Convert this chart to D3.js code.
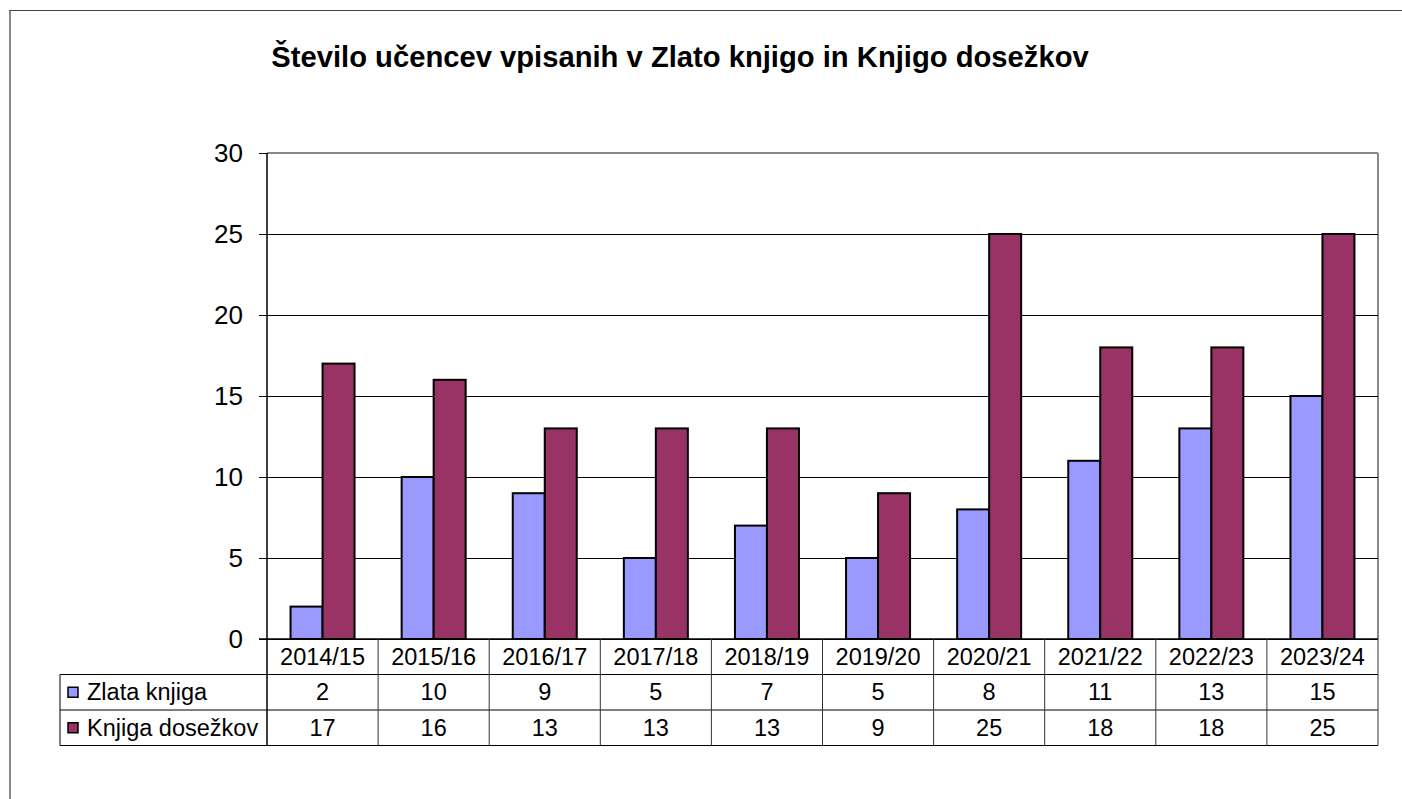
<!DOCTYPE html>
<html>
  <head>
    <meta charset="utf-8">
    <title>Zlata knjiga in Knjiga dosežkov</title>
    <style>
      body {
        margin: 0px;
        overflow: hidden;
        background: #fff;
      }
      text { font-family: "Liberation Sans", Arial, sans-serif; }
    </style>
    <script src="https://d3js.org/d3.v7.min.js"></script>
  </head>
  <body>

    <svg width="1402" height="799"></svg>

    <script>
      const years = ['2014/15', '2015/16', '2016/17', '2017/18', '2018/19',
                     '2019/20', '2020/21', '2021/22', '2022/23', '2023/24'];
      const seriesNames = ['Zlata knjiga', 'Knjiga dosežkov'];
      const zlataKnjiga = [2, 10, 9, 5, 7, 5, 8, 11, 13, 15];
      const knjigaDosezkov = [17, 16, 13, 13, 13, 9, 25, 18, 18, 25];
      const yTicks = [0, 5, 10, 15, 20, 25, 30];
      const colors = ['#9999ff', '#993366'];

      const svg = d3.select('svg');
      const width = +svg.attr('width');

      const series = [zlataKnjiga, knjigaDosezkov];

      // outer frame (cut by the window)
      svg.append('line')
        .attr('x1', 10).attr('x2', 10).attr('y1', 10).attr('y2', 799)
        .attr('stroke', '#888').attr('stroke-width', 2);
      svg.append('line')
        .attr('x1', 9).attr('x2', width).attr('y1', 10.5).attr('y2', 10.5)
        .attr('stroke', '#444').attr('stroke-width', 1);

      svg.append('text')
        .attr('x', 680).attr('y', 67)
        .attr('text-anchor', 'middle')
        .attr('font-weight', 'bold')
        .attr('font-size', 29.2)
        .text('Število učencev vpisanih v Zlato knjigo in Knjigo dosežkov');

      const plotL = 267, plotR = 1378, plotT = 153, plotB = 639;
      const rowH = 35.5;

      const xScale = d3.scaleBand().domain(years).range([plotL, plotR]);
      const yScale = d3.scaleLinear().domain([0, 30]).range([plotB, plotT]);
      const xInner = d3.scaleBand().domain(seriesNames).range([0, 64]);

      // plot border (top/right gray)
      svg.append('line')
        .attr('x1', plotL).attr('x2', plotR).attr('y1', plotT).attr('y2', plotT)
        .attr('stroke', '#888').attr('stroke-width', 2);
      svg.append('line')
        .attr('x1', plotR).attr('x2', plotR).attr('y1', plotT).attr('y2', plotB)
        .attr('stroke', '#888').attr('stroke-width', 2);

      const yAxis = d3.axisLeft(yScale)
        .tickValues(yTicks)
        .tickSize(-(plotR - plotL))
        .tickPadding(24);

      const gy = svg.append('g')
        .attr('transform', `translate(${plotL},0)`)
        .call(yAxis);
      gy.select('.domain').remove();
      gy.selectAll('.tick line')
        .attr('stroke', '#000')
        .attr('x1', -8)
        .filter(d => d === 30).attr('x2', 0);
      gy.selectAll('.tick text')
        .attr('font-size', 26)
        .attr('fill', '#000')
        .attr('font-family', '"Liberation Sans", Arial, sans-serif');

      // bars
      const groups = svg.append('g').selectAll('g')
        .data(years)
        .join('g')
          .attr('transform', d => `translate(${xScale(d) + xScale.bandwidth() / 2 - 32},0)`);

      groups.selectAll('rect')
        .data((d, i) => series.map((s, j) => ({ name: seriesNames[j], value: s[i], j })))
        .join('rect')
          .attr('x', d => xInner(d.name))
          .attr('y', d => yScale(d.value))
          .attr('width', xInner.bandwidth())
          .attr('height', d => plotB - yScale(d.value))
          .attr('fill', d => colors[d.j])
          .attr('stroke', '#000')
          .attr('stroke-width', 2);

      // axis lines
      svg.append('line')
        .attr('x1', plotL).attr('x2', plotL).attr('y1', plotT).attr('y2', plotB + rowH * 3)
        .attr('stroke', '#000').attr('stroke-width', 1.5);
      svg.append('line')
        .attr('x1', plotL - 8).attr('x2', plotR).attr('y1', plotB).attr('y2', plotB)
        .attr('stroke', '#000').attr('stroke-width', 1.5);

      // data table
      const table = svg.append('g');
      const tableLeft = 60;
      [1, 2, 3].forEach(r => {
        table.append('line')
          .attr('x1', tableLeft).attr('x2', plotR)
          .attr('y1', plotB + rowH * r).attr('y2', plotB + rowH * r)
          .attr('stroke', '#000').attr('stroke-width', 1);
      });
      table.append('line')
        .attr('x1', tableLeft).attr('x2', tableLeft)
        .attr('y1', plotB + rowH).attr('y2', plotB + rowH * 3)
        .attr('stroke', '#000');
      table.selectAll('line.col')
        .data(years)
        .join('line')
          .attr('class', 'col')
          .attr('x1', d => xScale(d) + xScale.bandwidth())
          .attr('x2', d => xScale(d) + xScale.bandwidth())
          .attr('y1', plotB).attr('y2', plotB + rowH * 3)
          .attr('stroke', '#333').attr('stroke-width', 1);

      table.selectAll('text.cat')
        .data(years)
        .join('text')
          .attr('class', 'cat')
          .attr('x', d => xScale(d) + xScale.bandwidth() / 2)
          .attr('y', plotB + rowH / 2)
          .attr('dy', '0.35em')
          .attr('text-anchor', 'middle')
          .attr('font-size', 23.5)
          .text(d => d);

      series.forEach((s, j) => {
        const cy = plotB + rowH * (j + 1) + rowH / 2;
        table.append('rect')
          .attr('x', 68).attr('y', cy - 5)
          .attr('width', 10).attr('height', 10)
          .attr('fill', colors[j])
          .attr('stroke', '#000').attr('stroke-width', 1.5);
        table.append('text')
          .attr('x', 87).attr('y', cy)
          .attr('dy', '0.35em')
          .attr('font-size', 23.5)
          .text(seriesNames[j]);
        table.selectAll(`text.v${j}`)
          .data(s)
          .join('text')
            .attr('class', `v${j}`)
            .attr('x', (d, i) => xScale(years[i]) + xScale.bandwidth() / 2)
            .attr('y', cy)
            .attr('dy', '0.35em')
            .attr('text-anchor', 'middle')
            .attr('font-size', 23.5)
            .text(d => d);
      });
    </script>
  </body>
</html>
